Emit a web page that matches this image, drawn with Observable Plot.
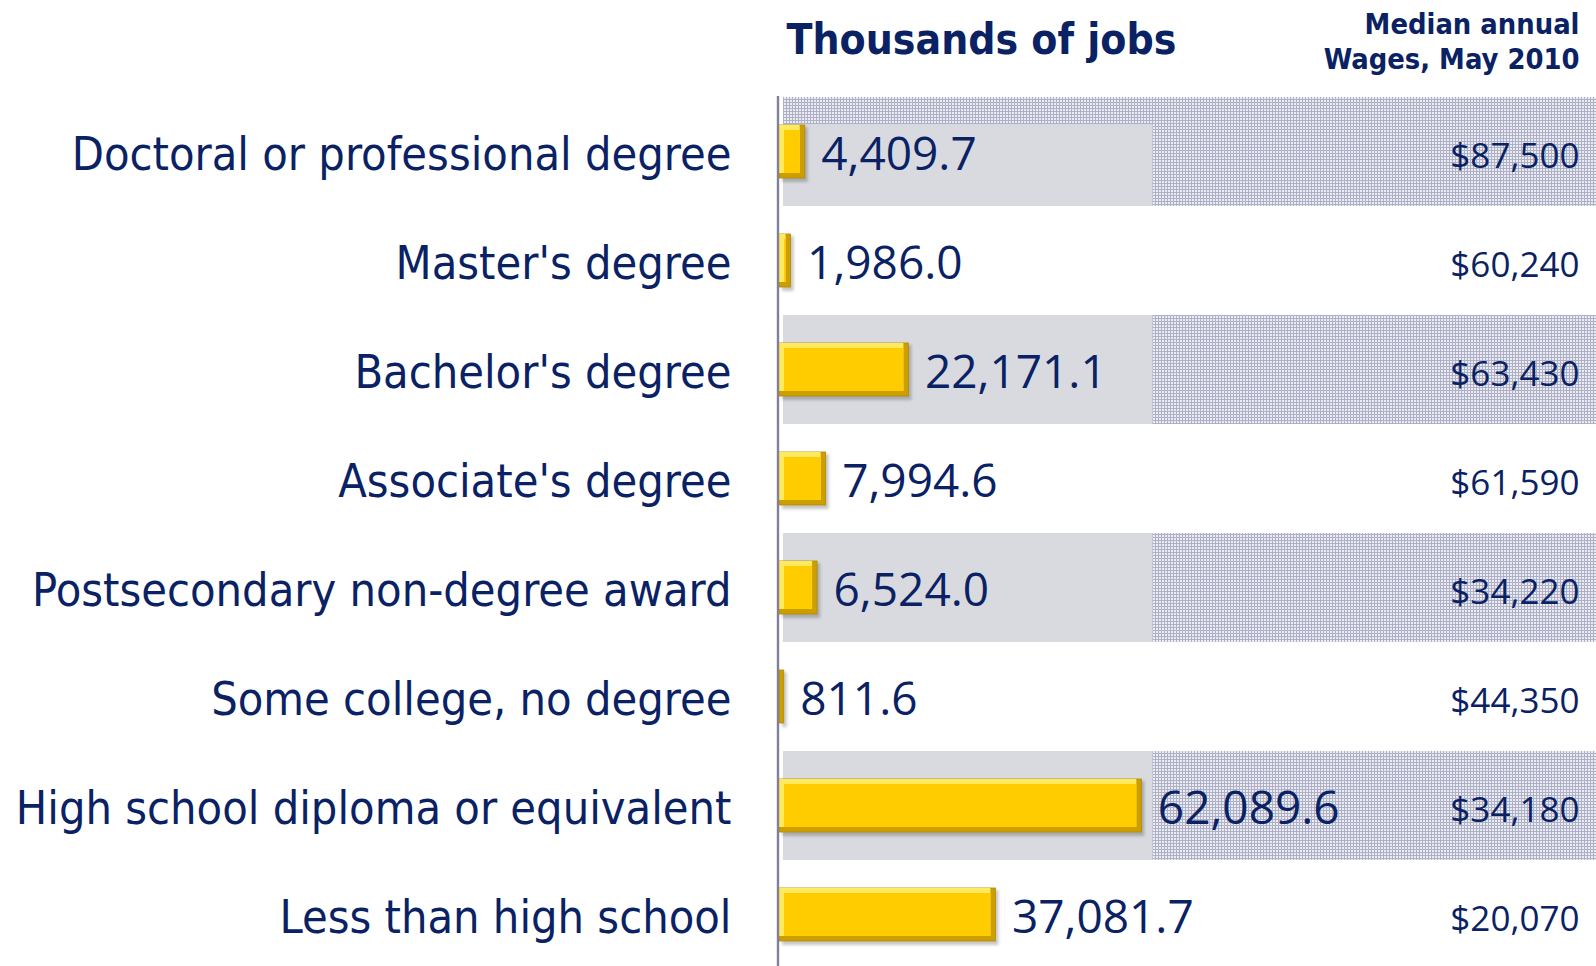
<!DOCTYPE html>
<html>
<head>
<meta charset="utf-8">
<script src="https://cdn.jsdelivr.net/npm/d3@7"></script>
<script src="https://cdn.jsdelivr.net/npm/@observablehq/plot@0.6"></script>
<style>
  html, body { margin: 0; padding: 0; background: #ffffff; }
  #chart { width: 1596px; height: 966px; overflow: hidden; }
</style>
</head>
<body>
<div id="chart"></div>
<script>
// ---- Data ----
const categories = [
  "Doctoral or professional degree",
  "Master's degree",
  "Bachelor's degree",
  "Associate's degree",
  "Postsecondary non-degree award",
  "Some college, no degree",
  "High school diploma or equivalent",
  "Less than high school"
];
const jobs = [4409.7, 1986.0, 22171.1, 7994.6, 6524.0, 811.6, 62089.6, 37081.7];
const wages = [87500, 60240, 63430, 61590, 34220, 44350, 34180, 20070];
const shadedRows = [
  "Doctoral or professional degree",
  "Bachelor's degree",
  "Postsecondary non-degree award",
  "High school diploma or equivalent"
];
const jobsTitle = "Thousands of jobs";
const wageTitle = "Median annual\nWages, May 2010";

// ---- Table built from the arrays ----
const data = categories.map((c, i) => ({
  category: c, jobs: jobs[i], wage: wages[i], shaded: shadedRows.includes(c)
}));
const shaded = data.filter(d => d.shaded);

const fmtJobs = d3.format(",.1f");
const fmtWage = d3.format("$,");
const navy = "#0a2264";
const labelFont = "'DejaVu Sans Condensed', 'DejaVu Sans', sans-serif";
const numFont = "'Open Sans', 'Noto Sans', sans-serif";
const xMax = 140000, grayEnd = 64000;
const barInset = 28;

const svg = Plot.plot({
  width: 1596,
  height: 966,
  marginLeft: 779,
  marginRight: 0,
  marginTop: 96,
  marginBottom: 0,
  style: { background: "white", overflow: "hidden" },
  x: { domain: [0, xMax], axis: null },
  y: { domain: categories, range: [95.5, 971], padding: 0, axis: null },
  marks: [
    // patterned band background
    Plot.barX(shaded, { x1: 0, x2: xMax, y: "category", fill: "url(#grid)", insetLeft: 4 }),
    // light grey part of the band
    Plot.barX(shaded.slice(1), { x1: 0, x2: grayEnd, y: "category", fill: "#d8dae0", insetLeft: 4 }),
    Plot.barX(shaded.slice(0, 1), { x1: 0, x2: grayEnd, y: "category", fill: "#d8dae0", insetLeft: 4, insetTop: 27 }),
    // bar shadow
    Plot.barX(data, { x: "jobs", y: "category", fill: "#000", fillOpacity: 0.22, insetTop: barInset + 2, insetBottom: barInset - 4, dx: 3 }),
    // bevelled gold bar: dark edge, light edge, core
    Plot.barX(data, { x: "jobs", y: "category", fill: "#cc9e00", stroke: "#b38a00", strokeWidth: 0.8, insetTop: barInset, insetBottom: barInset }),
    Plot.barX(data, { x: "jobs", y: "category", fill: "#ffe95e", insetTop: barInset, insetBottom: barInset + 5, insetRight: 5 }),
    Plot.barX(data, { x: "jobs", y: "category", fill: "#ffcc00", insetTop: barInset + 5, insetBottom: barInset + 5, insetLeft: 5, insetRight: 5 }),
    // vertical axis line
    Plot.ruleX([0], { stroke: "#80809c", strokeWidth: 2.4, dx: -1.5 }),
    // category labels
    Plot.text(data, {
      y: "category", text: "category", frameAnchor: "left", textAnchor: "end",
      dx: -48, dy: 3, fontSize: 46.5, fontFamily: labelFont, fill: navy
    }),
    // value labels
    Plot.text(data, {
      x: "jobs", y: "category", text: d => fmtJobs(d.jobs), textAnchor: "start",
      dx: 16, dy: 3.5, fontSize: 46, fontFamily: numFont, fill: navy
    }),
    // wage labels
    Plot.text(data, {
      y: "category", text: d => fmtWage(d.wage), frameAnchor: "right", textAnchor: "end",
      dx: -17, dy: 5, fontSize: 35, fontFamily: numFont, fill: navy
    }),
    // headers
    Plot.text([jobsTitle], {
      text: d => d, frameAnchor: "top-left", textAnchor: "start", lineAnchor: "bottom",
      dx: 7, dy: -43, fontSize: 42.3, fontWeight: "bold", fontFamily: labelFont, fill: navy
    }),
    Plot.text([wageTitle], {
      text: d => d, frameAnchor: "top-right", textAnchor: "end", lineAnchor: "bottom",
      dx: -17, dy: -28, fontSize: 28.8, lineHeight: 1.2, fontWeight: "bold", fontFamily: labelFont, fill: navy
    })
  ]
});

// pattern + blur definitions
const s = d3.select(svg);
const defs = s.insert("defs", ":first-child");
const pat = defs.append("pattern").attr("id", "grid").attr("patternUnits", "userSpaceOnUse")
  .attr("width", 3).attr("height", 3);
pat.append("rect").attr("width", 3).attr("height", 3).attr("fill", "#eaecf2");
pat.append("rect").attr("width", 3).attr("height", 1).attr("fill", "#adb0c6");
pat.append("rect").attr("width", 1).attr("height", 3).attr("fill", "#adb0c6");
defs.append("filter").attr("id", "soft").attr("x", "-20%").attr("y", "-20%").attr("width", "140%").attr("height", "160%")
  .append("feGaussianBlur").attr("stdDeviation", 1.6);
const barGroups = svg.querySelectorAll('g[aria-label="bar"]');
if (barGroups[3]) barGroups[3].setAttribute("filter", "url(#soft)");

document.getElementById("chart").appendChild(svg);
</script>
</body>
</html>
